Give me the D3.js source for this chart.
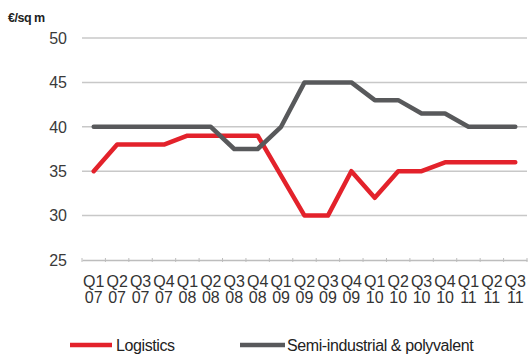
<!DOCTYPE html>
<html>
<head>
<meta charset="utf-8">
<script src="https://cdn.jsdelivr.net/npm/d3@7"></script>
<style>
  html, body { margin: 0; padding: 0; background: #fff; }
  svg { display: block; font-family: "Liberation Sans", Arial, sans-serif; }
</style>
</head>
<body>
<svg id="chart" width="532" height="357"></svg>
<script>
// Quarterly rent levels, €/sq m
const quarters = ["Q1","Q2","Q3","Q4","Q1","Q2","Q3","Q4","Q1","Q2","Q3","Q4","Q1","Q2","Q3","Q4","Q1","Q2","Q3"];
const years    = ["07","07","07","07","08","08","08","08","09","09","09","09","10","10","10","10","11","11","11"];
const logistics = [35, 38, 38, 38, 39, 39, 39, 39, 34.5, 30, 30, 35, 32, 35, 35, 36, 36, 36, 36];
const semiIndustrial = [40, 40, 40, 40, 40, 40, 37.5, 37.5, 40, 45, 45, 45, 43, 43, 41.5, 41.5, 40, 40, 40];
const yTicks = [25, 30, 35, 40, 45, 50];
const seriesNames = ["Logistics", "Semi-industrial & polyvalent"];
const seriesColors = ["#e3222b", "#58595b"];

const svg = d3.select("#chart");
const margin = { left: 82, right: 5, top: 38, bottom: 97 };
const W = 532, H = 357;

const idx = quarters.map((q, i) => i);
const x = d3.scaleBand().domain(idx).range([margin.left, W - margin.right]);
const y = d3.scaleLinear().domain([25, 50]).range([H - margin.bottom, margin.top]);

// horizontal gridlines
svg.append("g").selectAll("line")
  .data(yTicks.filter(t => t > 25))
  .join("line")
  .attr("x1", margin.left).attr("x2", W - margin.right)
  .attr("y1", d => y(d)).attr("y2", d => y(d))
  .attr("stroke", "#c8c8c8").attr("stroke-width", 1.5);

// y axis labels
svg.append("g").selectAll("text")
  .data(yTicks)
  .join("text")
  .attr("x", 67).attr("y", d => y(d))
  .attr("dy", "0.36em")
  .attr("text-anchor", "end")
  .attr("font-size", 16)
  .attr("fill", "#3a3a3a")
  .text(d => d);

// unit label
svg.append("text")
  .attr("x", 8).attr("y", 22)
  .attr("font-size", 12.5).attr("font-weight", "bold")
  .attr("fill", "#222")
  .attr("letter-spacing", "-0.5")
  .text("€/sq m");

// bottom axis
const xAxis = d3.axisBottom(x).tickSize(0).tickFormat("");
const gx = svg.append("g").attr("transform", `translate(0,${y(25)})`).call(xAxis);
gx.select(".domain").attr("stroke", "#bdbdbd").attr("stroke-width", 1.5);
// category boundary ticks
svg.append("g").selectAll("line")
  .data(idx.concat([quarters.length]))
  .join("line")
  .attr("x1", d => d < quarters.length ? x(d) : x(d - 1) + x.bandwidth())
  .attr("x2", d => d < quarters.length ? x(d) : x(d - 1) + x.bandwidth())
  .attr("y1", y(25) - 2).attr("y2", y(25) + 2)
  .attr("stroke", "#bdbdbd").attr("stroke-width", 1);

// two-line category labels
const lbl = svg.append("g").selectAll("text")
  .data(idx)
  .join("text")
  .attr("x", d => x(d) + x.bandwidth() / 2)
  .attr("y", 287)
  .attr("text-anchor", "middle")
  .attr("font-size", 16)
  .attr("fill", "#333");
lbl.append("tspan").text(d => quarters[d]);
lbl.append("tspan")
  .attr("x", d => x(d) + x.bandwidth() / 2)
  .attr("dy", 16)
  .text(d => years[d]);

// series lines
const line = d3.line()
  .x((d, i) => x(i) + x.bandwidth() / 2)
  .y(d => y(d));

[logistics, semiIndustrial].forEach((vals, k) => {
  svg.append("path")
    .datum(vals)
    .attr("d", line)
    .attr("fill", "none")
    .attr("stroke", seriesColors[k])
    .attr("stroke-width", 4.5)
    .attr("stroke-linejoin", "round")
    .attr("stroke-linecap", "round");
});

// legend
const legendItems = [
  { x1: 70, x2: 112, tx: 116 },
  { x1: 240, x2: 285, tx: 287 }
];
legendItems.forEach((it, k) => {
  svg.append("line")
    .attr("x1", it.x1).attr("x2", it.x2)
    .attr("y1", 345).attr("y2", 345)
    .attr("stroke", seriesColors[k]).attr("stroke-width", 4.5);
  svg.append("text")
    .attr("x", it.tx).attr("y", 351)
    .attr("font-size", 16)
    .attr("letter-spacing", "-0.4")
    .attr("fill", "#222")
    .text(seriesNames[k]);
});
</script>
</body>
</html>
